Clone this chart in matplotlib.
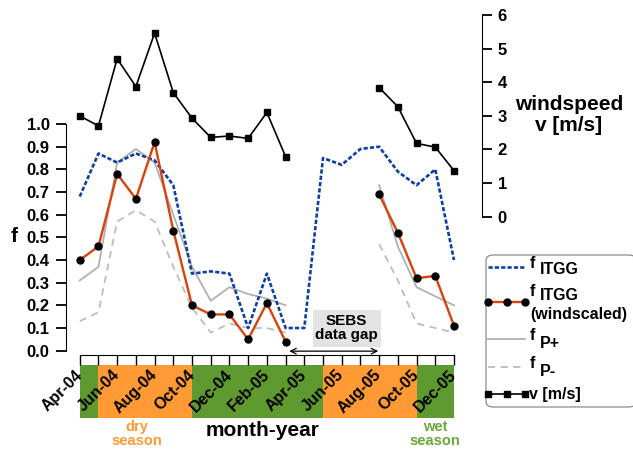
import numpy as np
import matplotlib.pyplot as plt
from matplotlib.patches import Rectangle, FancyBboxPatch
from matplotlib.lines import Line2D

plt.rcParams['font.family'] = ['Liberation Sans', 'DejaVu Sans']
plt.rcParams['font.weight'] = 'bold'

# data (monthly, Apr-04 .. Dec-05)
months = ['Apr-04', 'May-04', 'Jun-04', 'Jul-04', 'Aug-04', 'Sep-04', 'Oct-04',
          'Nov-04', 'Dec-04', 'Jan-05', 'Feb-05', 'Mar-05', 'Apr-05', 'May-05',
          'Jun-05', 'Jul-05', 'Aug-05', 'Sep-05', 'Oct-05', 'Nov-05', 'Dec-05']
nan = np.nan
f_itgg = [0.68, 0.87, 0.83, 0.87, 0.84, 0.73, 0.34, 0.35, 0.34, 0.10, 0.34,
          0.10, 0.10, 0.85, 0.82, 0.89, 0.90, 0.79, 0.73, 0.80, 0.40]
f_wind = [0.40, 0.46, 0.78, 0.67, 0.92, 0.53, 0.20, 0.16, 0.16, 0.05, 0.21,
          0.04, nan, nan, nan, nan, 0.69, 0.52, 0.32, 0.33, 0.11]
f_pplus = [0.31, 0.37, 0.83, 0.89, 0.83, 0.60, 0.37, 0.22, 0.28, 0.25, 0.23,
           0.20, nan, nan, nan, nan, 0.73, 0.46, 0.28, 0.24, 0.20]
f_pminus = [0.13, 0.17, 0.57, 0.62, 0.57, 0.37, 0.19, 0.08, 0.12, 0.10, 0.10,
            0.08, nan, nan, nan, nan, 0.47, 0.31, 0.12, 0.10, 0.08]
wind = [3.0, 2.7, 4.7, 3.87, 5.46, 3.69, 2.93, 2.36, 2.4, 2.33, 3.1, 1.79,
        nan, nan, nan, nan, 3.84, 3.27, 2.18, 2.07, 1.37]
# season blocks (month index start, end)
season_start = [0, 1, 6, 13, 18]
season_end = [1, 6, 13, 18, 20]
season_kind = ['wet', 'dry', 'wet', 'dry', 'wet']

c_blue = '#0E3FA3'
c_orange = '#D9420C'
c_gray = '#B0B0B0'
c_gray2 = '#BDBDBD'
c_green = '#5F9A30'
c_dry = '#FF9A35'

W, H = 633, 450
def fx(x):
    return x / W
def fy(y):
    return 1 - y / H

fig = plt.figure(figsize=(6.33, 4.5), dpi=100)
ax = fig.add_axes([fx(65.7), fy(355), (481.7 - 65.7) / W, (355 - 15) / H])
ax.set_zorder(1)
ax.patch.set_visible(False)
x = np.arange(len(months))
ax.set_xlim(-0.75, 21.48)
ax.set_ylim(-0.019, 1.481)

ax.plot(x, f_pminus, color=c_gray2, lw=1.3, ls=(0, (4, 3)))
ax.plot(x, f_pplus, color=c_gray, lw=1.3)
ax.plot(x, f_itgg, color=c_blue, lw=1.9, ls=(0, (1.6, 0.8)))
ax.plot(x, f_wind, color=c_orange, lw=1.7, marker='o', ms=5, mfc='black', mec='black')

# data gap marker
ax.add_patch(Rectangle((12.46, 0.018), 3.62, 0.162, color='#E3E3E3', lw=0))
ax.text(14.27, 0.099, 'SEBS\ndata gap', ha='center', va='center', fontsize=11, linespacing=1.0)
ax.annotate('', xy=(11.2, -0.002), xytext=(15.95, -0.002),
            arrowprops=dict(arrowstyle='<->', color='black', lw=0.9, shrinkA=0, shrinkB=0))

for s in ['top', 'right']:
    ax.spines[s].set_visible(False)
ax.spines['left'].set_bounds(0, 1)
ax.spines['bottom'].set_bounds(0, 20)
ax.set_yticks(np.arange(0, 1.01, 0.1))
ax.set_yticklabels(['%.1f' % v for v in np.arange(0, 1.01, 0.1)], fontsize=12)
ax.tick_params(axis='y', length=7.5, width=1.3, pad=4)
ax.set_xticks(x)
ax.set_xticklabels([m if i % 2 == 0 else '' for i, m in enumerate(months)],
                   rotation=45, ha='right', va='center', rotation_mode='anchor', fontsize=11.5)
ax.tick_params(axis='x', length=7.5, width=1.0, pad=5)

# wind speed axis
wax = ax.twinx()
wax.set_zorder(2)
wax.set_ylim(-4.114, 6.0)
wax.plot(x, wind, color='black', lw=1.2, marker='s', ms=5)
for s in ['top', 'left', 'bottom']:
    wax.spines[s].set_visible(False)
wax.spines['right'].set_bounds(0, 6)
wax.set_yticks(range(7))
wax.set_yticklabels([str(i) for i in range(7)], fontsize=12)
wax.tick_params(axis='y', length=7.5, width=1.3, pad=4)

# season bar
bax = fig.add_axes([fx(65.7), fy(417.7), 416 / W, (417.7 - 365) / H])
bax.set_zorder(0)
bax.set_xlim(-0.75, 21.48)
bax.axis('off')
for a, b, k in zip(season_start, season_end, season_kind):
    bax.axvspan(a, b, color=c_green if k == 'wet' else c_dry, lw=0)

fig.text(fx(137), fy(434), 'dry\nseason', color=c_dry, ha='center', va='center', fontsize=10.5, linespacing=1.0)
fig.text(fx(435), fy(434), 'wet\nseason', color='#6BA83A', ha='center', va='center', fontsize=10.5, linespacing=1.0)
fig.text(fx(263), fy(431), 'month-year', ha='center', va='center', fontsize=15)
fig.text(fx(14), fy(237), 'f', ha='center', va='center', fontsize=15)
fig.text(fx(569), fy(115), 'windspeed\nv [m/s]', ha='center', va='center', fontsize=15, linespacing=1.1)

# legend
fig.patches.append(FancyBboxPatch((fx(486), fy(407)), fx(150), 152 / H, transform=fig.transFigure,
                                  boxstyle='round,pad=0,rounding_size=0.012', fc='white', ec='#8C8C8C', lw=0.9))
lx0, lx1 = 488, 525
def leg_line(y, **kw):
    fig.lines.append(Line2D([fx(lx0), fx(lx1)], [fy(y), fy(y)], transform=fig.transFigure, **kw))
def leg_label(yf, ys, sub):
    fig.text(fx(530), fy(yf), 'f', ha='left', va='center', fontsize=11.5)
    fig.text(fx(540), fy(ys), sub, ha='left', va='center', fontsize=11.5)

leg_line(267, color=c_blue, lw=1.9, ls=(0, (1.6, 0.8)))
leg_label(264, 270, 'ITGG')
fig.lines.append(Line2D([fx(lx0), fx(506.5), fx(lx1)], [fy(302)] * 3, transform=fig.transFigure,
                        color=c_orange, lw=1.7, marker='o', ms=5, mfc='black', mec='black'))
leg_label(292, 296, 'ITGG')
fig.text(fx(530), fy(315), '(windscaled)', ha='left', va='center', fontsize=11.5)
leg_line(339, color=c_gray, lw=1.3)
leg_label(335, 343, 'P+')
leg_line(367, color=c_gray2, lw=1.3, ls=(0, (4, 3)))
leg_label(363, 372, 'P-')
fig.lines.append(Line2D([fx(lx0), fx(506.5), fx(lx1)], [fy(394)] * 3, transform=fig.transFigure,
                        color='black', lw=1.2, marker='s', ms=4.5))
fig.text(fx(529), fy(394), 'v [m/s]', ha='left', va='center', fontsize=11.5)

fig.savefig('out.png', dpi=100)
